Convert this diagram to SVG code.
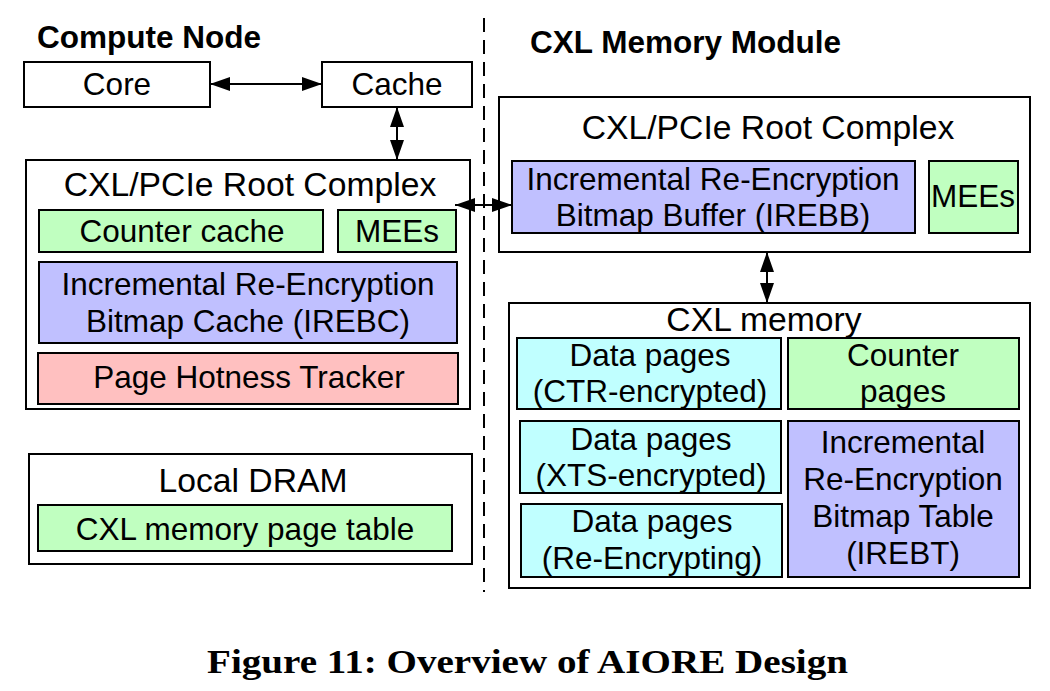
<svg xmlns="http://www.w3.org/2000/svg" width="1050" height="691" viewBox="0 0 1050 691">
<defs>
<marker id="ah" viewBox="0 0 20 14" refX="20" refY="7" markerWidth="20" markerHeight="14" markerUnits="userSpaceOnUse" orient="auto-start-reverse">
<path d="M0,0 L20,7 L0,14 z" fill="#000"/>
</marker>
</defs>
<style>
text{font-family:"Liberation Sans",Arial,sans-serif;font-size:31.5px;fill:#000;text-anchor:middle}
.h{font-size:33.7px}
.title{font-weight:bold;text-anchor:start}
.cap{font-family:"Liberation Serif","Times New Roman",serif;font-weight:bold;font-size:34px;text-anchor:start}
.box{fill:#fff;stroke:#000;stroke-width:2}
.g{fill:#c0ffc0;stroke:#000;stroke-width:2}
.b{fill:#c0c0ff;stroke:#000;stroke-width:2}
.p{fill:#ffc0c0;stroke:#000;stroke-width:2}
.c{fill:#c0ffff;stroke:#000;stroke-width:2}
.conn{stroke:#000;stroke-width:2;fill:none;marker-start:url(#ah);marker-end:url(#ah)}
</style>
<rect width="1050" height="691" fill="#fff"/>
<line x1="484" y1="18" x2="484" y2="592" stroke="#000" stroke-width="2" stroke-dasharray="14,8"/>
<text class="title" x="37" y="48">Compute Node</text>
<text class="title" x="530" y="53">CXL Memory Module</text>

<g id="core"><rect class="box" x="24" y="62" width="186" height="45"/><text x="117" y="95">Core</text></g>
<g id="cache"><rect class="box" x="322" y="62" width="150" height="45"/><text x="397" y="95">Cache</text></g>

<g id="rc-left">
<rect class="box" x="26" y="160" width="444" height="249"/>
<text class="h" x="250" y="196">CXL/PCIe Root Complex</text>
<g id="counter-cache"><rect class="g" x="39" y="210" width="284" height="42"/><text x="182" y="242">Counter cache</text></g>
<g id="mees-left"><rect class="g" x="338" y="210" width="118" height="42"/><text x="397" y="242">MEEs</text></g>
<g id="irebc"><rect class="b" x="39" y="262" width="418" height="81"/><text x="248" y="295">Incremental Re-Encryption</text><text x="248" y="332">Bitmap Cache (IREBC)</text></g>
<g id="pht"><rect class="p" x="38" y="353" width="420" height="51"/><text x="249" y="388">Page Hotness Tracker</text></g>
</g>

<g id="local-dram">
<rect class="box" x="29" y="454" width="443" height="110"/>
<text class="h" x="253" y="492">Local DRAM</text>
<g id="page-table"><rect class="g" x="38" y="505" width="414" height="46"/><text x="245" y="540">CXL memory page table</text></g>
</g>

<g id="rc-right">
<rect class="box" x="499" y="97" width="531" height="155"/>
<text class="h" x="768" y="139">CXL/PCIe Root Complex</text>
<g id="irebb"><rect class="b" x="512" y="161" width="403" height="72"/><text x="713" y="190">Incremental Re-Encryption</text><text x="713" y="226">Bitmap Buffer (IREBB)</text></g>
<g id="mees-right"><rect class="g" x="929" y="161" width="89" height="72"/><text x="973" y="207">MEEs</text></g>
</g>

<g id="cxl-memory">
<rect class="box" x="509" y="303" width="521" height="285"/>
<text class="h" x="764" y="331">CXL memory</text>
<g id="dp-ctr"><rect class="c" x="517" y="338" width="264" height="71"/><text x="650" y="366">Data pages</text><text x="650" y="402">(CTR-encrypted)</text></g>
<g id="counter-pages"><rect class="g" x="788" y="338" width="231" height="71"/><text x="903" y="366">Counter</text><text x="903" y="402">pages</text></g>
<g id="dp-xts"><rect class="c" x="520" y="421" width="261" height="72"/><text x="651" y="450">Data pages</text><text x="651" y="486">(XTS-encrypted)</text></g>
<g id="dp-re"><rect class="c" x="521" y="504" width="261" height="73"/><text x="652" y="532">Data pages</text><text x="652" y="569">(Re-Encrypting)</text></g>
<g id="irebt"><rect class="b" x="788" y="421" width="231" height="156"/><text x="903" y="453">Incremental</text><text x="903" y="490">Re-Encryption</text><text x="903" y="527">Bitmap Table</text><text x="903" y="564">(IREBT)</text></g>
</g>

<g id="connectors">
<line class="conn" x1="210" y1="84" x2="322" y2="84"/>
<line class="conn" x1="397" y1="107" x2="397" y2="160"/>
<line class="conn" x1="455" y1="205" x2="512" y2="205"/>
<line class="conn" x1="767" y1="252" x2="767" y2="303"/>
</g>

<text class="cap" x="207" y="673" textLength="641" lengthAdjust="spacingAndGlyphs">Figure 11: Overview of AIORE Design</text>
</svg>
